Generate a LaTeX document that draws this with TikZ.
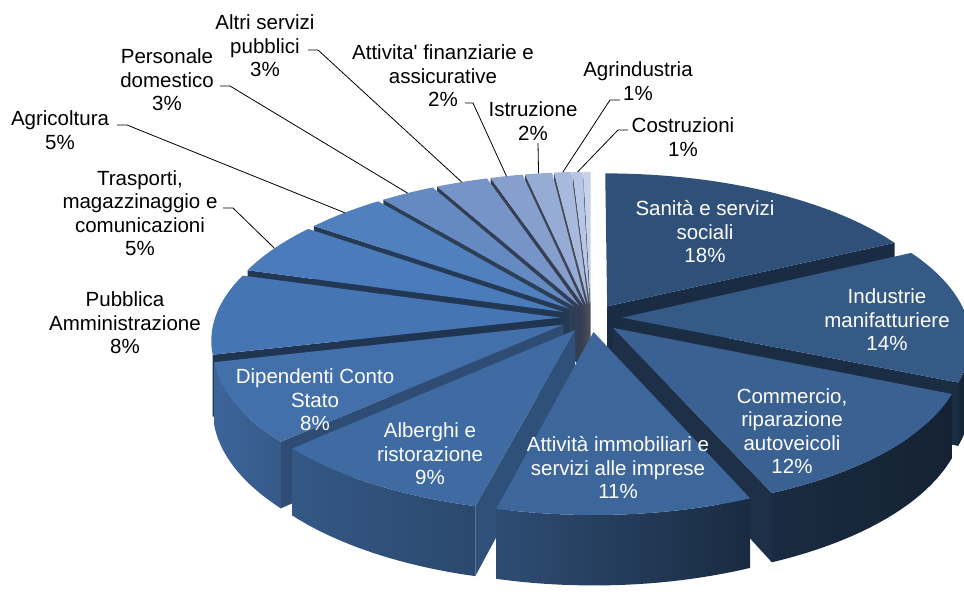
\documentclass[tikz,border=0pt]{standalone}
\usepackage{fontspec}
\setmainfont{Liberation Sans}
\usetikzlibrary{calc}
\definecolor{cSan}{HTML}{2F5079}
\definecolor{cInd}{HTML}{355A86}
\definecolor{cCom}{HTML}{3A6191}
\definecolor{cAtt}{HTML}{3D669A}
\definecolor{cAlb}{HTML}{3F6BA2}
\definecolor{cDip}{HTML}{4370AB}
\definecolor{cPub}{HTML}{4675B3}
\definecolor{cTra}{HTML}{4A7BBA}
\definecolor{cAgr}{HTML}{5080BE}
\definecolor{cPer}{HTML}{6589C1}
\definecolor{cAlt}{HTML}{7694C7}
\definecolor{cFin}{HTML}{879FCD}
\definecolor{cIst}{HTML}{96ACD5}
\definecolor{cAgi}{HTML}{A7B9DD}
\definecolor{cCos}{HTML}{B7C6E4}
\definecolor{cExt}{HTML}{C6D2EA}
\pgfmathdeclarefunction{PX}{3}{\pgfmathparse{591+345*(#2*sin(#1)+0.09*sin(#3))/(1+0.136*(#2*cos(#1)+0.09*cos(#3)))}}
\pgfmathdeclarefunction{PY}{3}{\pgfmathparse{318-154*(#2*cos(#1)+0.09*cos(#3))/(1+0.136*(#2*cos(#1)+0.09*cos(#3)))}}
\pgfmathdeclarefunction{PB}{3}{\pgfmathparse{318+(60-154*(#2*cos(#1)+0.09*cos(#3)))/(1+0.136*(#2*cos(#1)+0.09*cos(#3)))}}
\newcommand\pieside[2]{%
  \fill[#2] ({PX(0,0,\slmid)},{PY(0,0,\slmid)}) -- ({PX(#1,1,\slmid)},{PY(#1,1,\slmid)})
    -- ({PX(#1,1,\slmid)},{PB(#1,1,\slmid)}) -- ({PX(0,0,\slmid)},{PB(0,0,\slmid)}) -- cycle;}
\newcommand\pieslice[6]{%
  \pgfmathsetmacro\slmid{(#1+#2)/2}%
  \pgfmathtruncatemacro\visa{sin(#1)<-0.001}%
  \pgfmathtruncatemacro\visb{sin(#2)>0.001}%
  \ifnum\visa=1 \pieside{#1}{#3!#6!black}\fi
  \ifnum\visb=1 \pieside{#2}{#3!#6!black}\fi
  \pgfmathsetmacro\slo{max(#1,90)}%
  \pgfmathsetmacro\shi{min(#2,258)}%
  \pgfmathtruncatemacro\viso{\shi>\slo}%
  \ifnum\viso=1
    \shade[left color=#3!#4!black,right color=#3!#5!black] ({PX(\slo,1,\slmid)},{PY(\slo,1,\slmid)})
      \foreach \k in {1,...,24}{ -- ({PX(\slo+(\shi-\slo)*\k/24,1,\slmid)},{PY(\slo+(\shi-\slo)*\k/24,1,\slmid)}) }
      \foreach \k in {24,...,0}{ -- ({PX(\slo+(\shi-\slo)*\k/24,1,\slmid)},{PB(\slo+(\shi-\slo)*\k/24,1,\slmid)}) } -- cycle;
  \fi
  \fill[#3] ({PX(0,0,\slmid)},{PY(0,0,\slmid)})
    \foreach \k in {0,...,30}{ -- ({PX(#1+(#2-#1)*\k/30,1,\slmid)},{PY(#1+(#2-#1)*\k/30,1,\slmid)}) } -- cycle;
}
\tikzset{lbl/.style={align=center,inner sep=0pt,font=\fontsize{20.5}{23.5}\selectfont}}
\tikzset{lblw/.style={lbl,text=white}}
\tikzset{leader/.style={draw=black,line width=0.8pt}}
\begin{document}
\begin{tikzpicture}[x=1pt,y=-1pt]
\useasboundingbox (0,0) rectangle (964,595);
\foreach \ta/\tb/\col/\sdl/\sdr/\rdf in {358.6/360/cExt/50/40/40, 356.7/358.6/cCos/50/40/40,
  353.4/356.7/cAgi/50/40/40, 348.2/353.4/cIst/50/40/40, 342/348.2/cFin/50/40/40,
  332/342/cAlt/50/40/42, 0/63.5/cSan/50/40/55, 321.5/332/cPer/50/40/45,
  306/321.5/cAgr/50/40/45, 286.5/306/cTra/50/40/45, 63.5/113.5/cInd/45/35/50,
  256.5/286.5/cPub/90/85/45, 227/256.5/cDip/90/80/68, 113.5/157/cCom/45/35/50,
  194/227/cAlb/82/68/75, 157/194/cAtt/75/42/50}
  {\pieslice{\ta}{\tb}{\col}{\sdl}{\sdr}{\rdf}}
\node (lSan) at (705,232) [lblw] {Sanità e servizi\\sociali\\18\%};
\node (lInd) at (887,320) [lblw] {Industrie\\manifatturiere\\14\%};
\node (lCom) at (792,431) [lblw] {Commercio,\\riparazione\\autoveicoli\\12\%};
\node (lAtt) at (618,468) [lblw] {Attività immobiliari e\\servizi alle imprese\\11\%};
\node (lAlb) at (430,454) [lblw] {Alberghi e\\ristorazione\\9\%};
\node (lDip) at (315,400) [lblw] {Dipendenti Conto\\Stato\\8\%};
\node (lPub) at (125,323) [lbl] {Pubblica\\Amministrazione\\8\%};
\node (lTra) at (140,213) [lbl] {Trasporti,\\magazzinaggio e\\comunicazioni\\5\%};
\node (lAgr) at (60,130) [lbl] {Agricoltura\\5\%};
\node (lPer) at (167,80) [lbl] {Personale\\domestico\\3\%};
\node (lAlt) at (265,46) [lbl] {Altri servizi\\pubblici\\3\%};
\node (lFin) at (443,76) [lbl] {Attivita\textquotesingle{} finanziarie e\\assicurative\\2\%};
\node (lIst) at (533,121) [lbl] {Istruzione\\2\%};
\node (lAgi) at (638,81) [lbl] {Agrindustria\\1\%};
\node (lCos) at (683,137) [lbl] {Costruzioni\\1\%};
\coordinate (pTra) at ({PX(296.25,1,296.25)},{PY(296.25,1,296.25)});
\coordinate (pAgr) at ({PX(313.75,1,313.75)},{PY(313.75,1,313.75)});
\coordinate (pPer) at ({PX(326.75,1,326.75)},{PY(326.75,1,326.75)});
\coordinate (pAlt) at ({PX(337,1,337)},{PY(337,1,337)});
\coordinate (pFin) at ({PX(345.1,1,345.1)},{PY(345.1,1,345.1)});
\coordinate (pIst) at ({PX(350.8,1,350.8)},{PY(350.8,1,350.8)});
\coordinate (pAgi) at ({PX(355.05,1,355.05)},{PY(355.05,1,355.05)});
\coordinate (pCos) at ({PX(357.65,1,357.65)},{PY(357.65,1,357.65)});
\coordinate (aTra) at (223,208);
\coordinate (aAgr) at (117,125);
\coordinate (aPer) at (220,86);
\coordinate (aAlt) at (308,50);
\coordinate (aFin) at (465,103);
\coordinate (aIst) at (538,143);
\coordinate (aAgi) at (620,100);
\coordinate (aCos) at (628,130);
\draw[leader] (aTra) -- ++(10,0) -- (pTra);
\draw[leader] (aAgr) -- ++(10,0) -- (pAgr);
\draw[leader] (aPer) -- ++(10,0) -- (pPer);
\draw[leader] (aAlt) -- ++(10,0) -- (pAlt);
\draw[leader] (aFin) -- ++(8,0) -- (pFin);
\draw[leader] (aIst) -- (pIst);
\draw[leader] (aAgi) -- ++(-10,0) -- (pAgi);
\draw[leader] (aCos) -- ++(-10,0) -- (pCos);
\end{tikzpicture}
\end{document}
